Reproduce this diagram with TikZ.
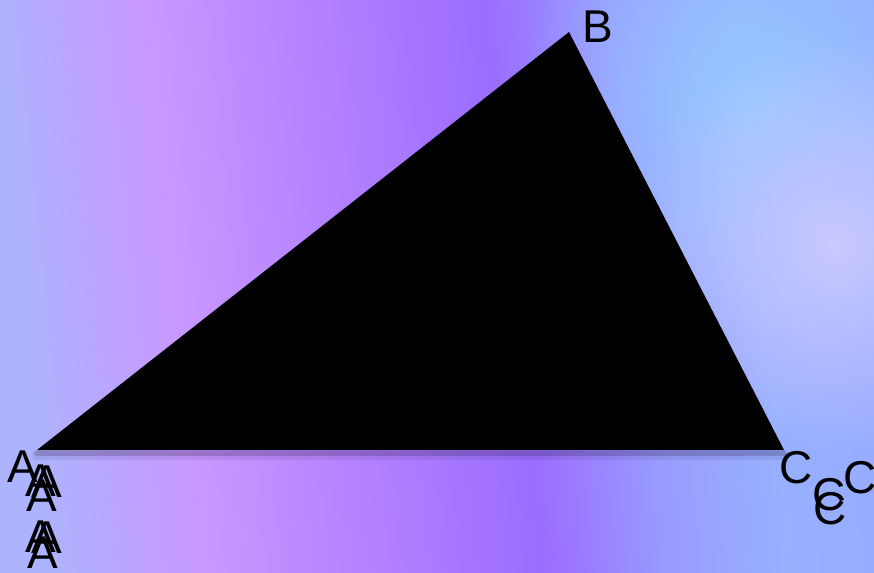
\documentclass[tikz,border=0pt]{standalone}
\usepackage{fontspec}
\setmainfont{Liberation Sans}
\usepackage{tikz}
\usetikzlibrary{fadings}
\definecolor{cLeft}{RGB}{172,180,255}
\definecolor{cPink}{RGB}{201,152,255}
\definecolor{cMauve}{RGB}{180,130,255}
\definecolor{cViolet}{RGB}{156,108,255}
\definecolor{cPeri}{RGB}{152,156,255}
\definecolor{cSky}{RGB}{150,200,255}
\definecolor{cLav}{RGB}{202,200,255}
\pgfdeclarehorizontalshading{bgshade}{100bp}{color(0bp)=(cLeft); color(25bp)=(cLeft); color(34.5bp)=(cPink); color(44bp)=(cMauve); color(54.5bp)=(cViolet); color(62bp)=(cPeri); color(69bp)=(cSky!45!cPeri); color(75bp)=(cSky!35!cPeri); color(100bp)=(cSky!35!cPeri)}
\tikzfading[name=glowfade, inner color=transparent!0, outer color=transparent!100]
\tikzset{
	vertexlbl/.style={anchor=base west, inner sep=0pt, text=black},
	glow/.style     ={path fading=glowfade},
	baseshadow/.style={black!70!cViolet, line cap=round},
}

\begin{document}
\begin{tikzpicture}[x=1pt, y=-1pt, font=\fontsize{46}{50}\selectfont]
	\useasboundingbox (0,0) rectangle (874,572);
	% background
	\shade[shading=bgshade, shading angle=6] (0,0) rectangle (874,572);
	\fill[cSky, glow] (755,105) circle (240);
	\fill[cLav, glow] (835,245) circle (210);
	% triangle
	\coordinate (A) at (37,450);
	\coordinate (B) at (569,32);
	\coordinate (C) at (784,450);
	\draw[baseshadow, opacity=0.10, line width=10pt] ([yshift=-5pt]A) -- ([yshift=-5pt]C);
	\draw[baseshadow, opacity=0.22, line width=5pt] ([yshift=-3pt]A) -- ([yshift=-3pt]C);
	\fill[black] (A) -- (B) -- (C) -- cycle;
	% labels
	\node[vertexlbl] (labB) at (582,43) {B};
	\node[vertexlbl] (labA1) at (7,482) {A};
	\node[vertexlbl] (labA2) at (25,496) {A};
	\node[vertexlbl] (labA3) at (31,497) {A};
	\node[vertexlbl] (labA4) at (26,511) {A};
	\node[vertexlbl] (labA5) at (25,552) {A};
	\node[vertexlbl] (labA6) at (31,553) {A};
	\node[vertexlbl] (labA7) at (27,568) {A};
	\node[vertexlbl] (labC1) at (779,483) {C};
	\node[vertexlbl] (labC2) at (812,510) {C};
	\node[vertexlbl] (labC3) at (813,524) {C};
	\node[vertexlbl] (labC4) at (843,493) {C};
\end{tikzpicture}
\end{document}
